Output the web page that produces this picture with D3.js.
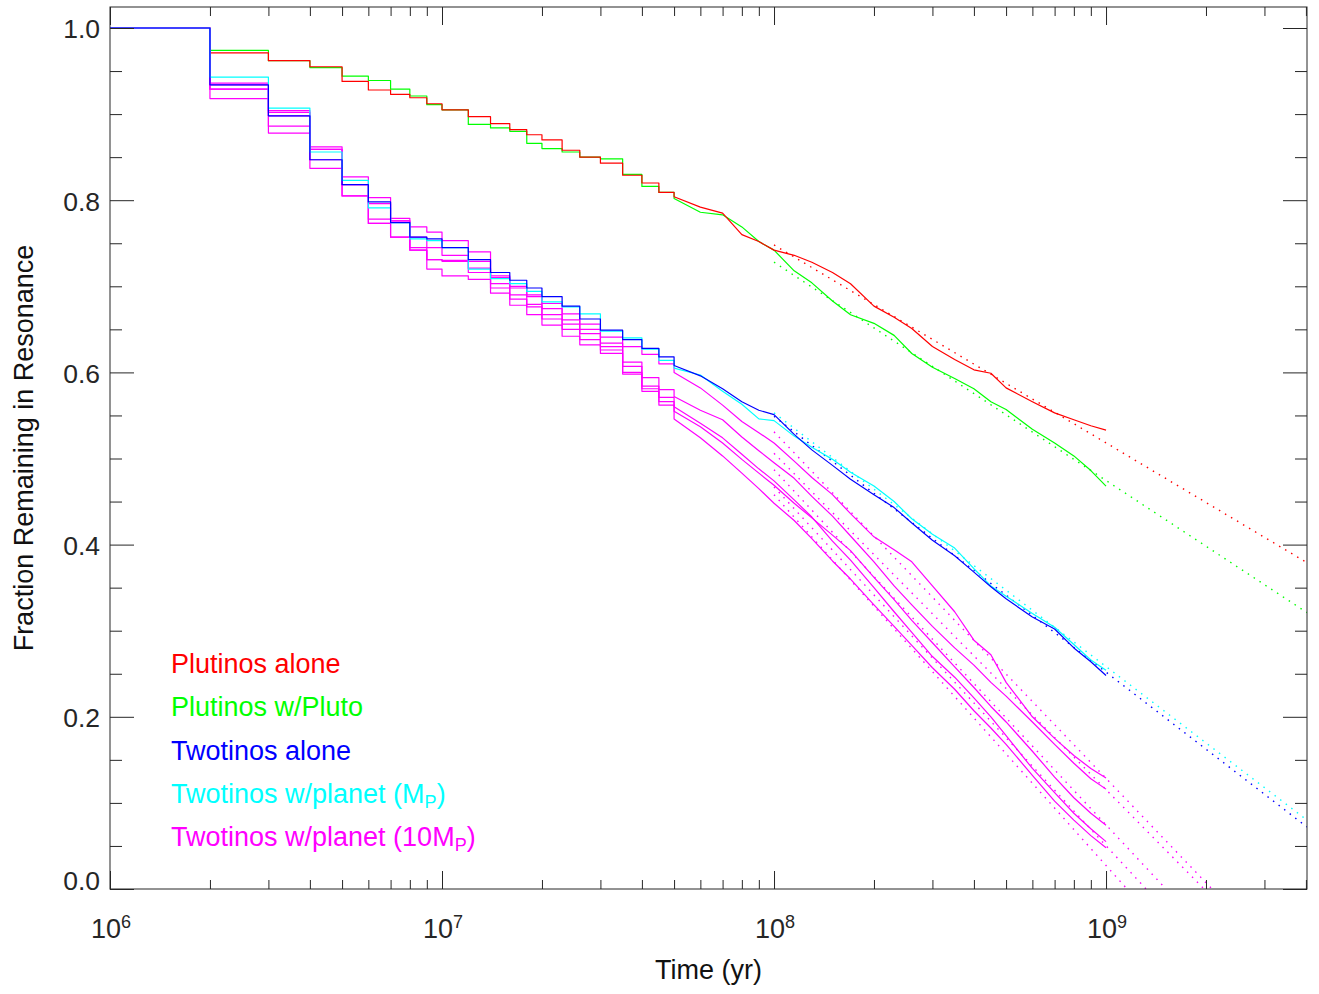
<!DOCTYPE html>
<html>
<head>
<meta charset="utf-8">
<script src="https://cdn.jsdelivr.net/npm/d3@7"></script>
<style>
  body { margin: 0; background: #fff; }
  svg { display: block; }
  text { font-family: "Liberation Sans", Arial, Helvetica, sans-serif; }
</style>
</head>
<body>
<div id="chart"></div>
<script>
// Sample times (yr), shared by every series
const times = [1e6, 2e6, 3e6, 4e6, 5e6, 6e6, 7e6, 8e6, 9e6, 1e7,
  1.2e7, 1.4e7, 1.6e7, 1.8e7, 2e7, 2.3e7, 2.6e7, 3e7, 3.5e7, 4e7,
  4.5e7, 5e7, 6e7, 7e7, 8e7, 9e7, 1e8, 1.15e8, 1.3e8, 1.5e8,
  1.7e8, 2e8, 2.3e8, 2.6e8, 3e8, 3.5e8, 4e8, 4.5e8, 5e8, 6e8,
  7e8, 8e8, 9e8, 1e9];

// Fraction remaining
const plutinosAlone = [1.000, 0.971, 0.962, 0.955, 0.938, 0.928, 0.923, 0.919, 0.912, 0.905,
  0.897, 0.889, 0.882, 0.876, 0.870, 0.858, 0.850, 0.843, 0.829, 0.820,
  0.809, 0.804, 0.792, 0.785, 0.760, 0.752, 0.742, 0.736, 0.728, 0.716,
  0.703, 0.677, 0.664, 0.651, 0.630, 0.615, 0.603, 0.599, 0.582, 0.566,
  0.553, 0.545, 0.538, 0.533];
const plutinosPluto = [1.000, 0.974, 0.962, 0.954, 0.944, 0.939, 0.929, 0.921, 0.911, 0.905,
  0.888, 0.884, 0.880, 0.866, 0.860, 0.856, 0.850, 0.848, 0.830, 0.816,
  0.809, 0.802, 0.786, 0.783, 0.769, 0.752, 0.742, 0.718, 0.704, 0.683,
  0.667, 0.657, 0.643, 0.622, 0.606, 0.593, 0.581, 0.566, 0.557, 0.534,
  0.518, 0.503, 0.486, 0.468];
const twotinosAlone = [1.000, 0.934, 0.898, 0.847, 0.818, 0.798, 0.774, 0.757, 0.755, 0.745,
  0.731, 0.716, 0.707, 0.698, 0.688, 0.677, 0.662, 0.649, 0.638, 0.628,
  0.618, 0.608, 0.596, 0.581, 0.566, 0.556, 0.551, 0.528, 0.510, 0.492,
  0.476, 0.458, 0.443, 0.425, 0.405, 0.387, 0.368, 0.351, 0.337, 0.316,
  0.302, 0.280, 0.264, 0.248];
const twotinosMp = [1.000, 0.943, 0.907, 0.856, 0.823, 0.791, 0.774, 0.755, 0.753, 0.745,
  0.720, 0.709, 0.703, 0.694, 0.682, 0.676, 0.668, 0.648, 0.640, 0.627,
  0.614, 0.605, 0.597, 0.578, 0.563, 0.546, 0.544, 0.526, 0.513, 0.499,
  0.484, 0.468, 0.450, 0.430, 0.412, 0.396, 0.372, 0.352, 0.340, 0.320,
  0.304, 0.284, 0.266, 0.254];
const twotinos10Mp1 = [1.000, 0.936, 0.904, 0.862, 0.827, 0.803, 0.779, 0.769, 0.763, 0.753,
  0.740, 0.712, 0.700, 0.690, 0.680, 0.668, 0.656, 0.641, 0.630, 0.621,
  0.610, 0.600, 0.582, 0.562, 0.543, 0.530, 0.518, 0.497, 0.478, 0.458,
  0.436, 0.409, 0.394, 0.380, 0.352, 0.322, 0.289, 0.272, 0.240, 0.200,
  0.175, 0.155, 0.140, 0.129];
const twotinos10Mp2 = [1.000, 0.934, 0.902, 0.859, 0.818, 0.796, 0.776, 0.757, 0.745, 0.736,
  0.729, 0.710, 0.698, 0.688, 0.674, 0.661, 0.650, 0.634, 0.612, 0.594,
  0.580, 0.572, 0.556, 0.545, 0.525, 0.509, 0.495, 0.477, 0.456, 0.433,
  0.410, 0.380, 0.352, 0.330, 0.305, 0.280, 0.260, 0.240, 0.224, 0.194,
  0.168, 0.146, 0.128, 0.116];
const twotinos10Mp3 = [1.000, 0.929, 0.898, 0.847, 0.818, 0.778, 0.776, 0.745, 0.731, 0.730,
  0.721, 0.703, 0.690, 0.679, 0.667, 0.656, 0.645, 0.626, 0.598, 0.581,
  0.566, 0.555, 0.537, 0.518, 0.499, 0.483, 0.469, 0.448, 0.431, 0.411,
  0.393, 0.362, 0.336, 0.312, 0.286, 0.258, 0.234, 0.212, 0.194, 0.160,
  0.130, 0.106, 0.088, 0.074];
const twotinos10Mp4 = [1.000, 0.929, 0.886, 0.859, 0.805, 0.773, 0.757, 0.742, 0.731, 0.729,
  0.716, 0.698, 0.685, 0.676, 0.662, 0.650, 0.638, 0.630, 0.607, 0.584,
  0.571, 0.560, 0.541, 0.524, 0.505, 0.488, 0.474, 0.452, 0.432, 0.404,
  0.382, 0.350, 0.322, 0.298, 0.270, 0.246, 0.222, 0.200, 0.178, 0.140,
  0.112, 0.088, 0.070, 0.055];
const twotinos10Mp5 = [1.000, 0.918, 0.878, 0.837, 0.805, 0.773, 0.757, 0.742, 0.720, 0.712,
  0.708, 0.692, 0.678, 0.667, 0.655, 0.642, 0.632, 0.622, 0.600, 0.578,
  0.562, 0.546, 0.524, 0.503, 0.483, 0.465, 0.448, 0.428, 0.407, 0.381,
  0.360, 0.330, 0.305, 0.283, 0.257, 0.232, 0.207, 0.187, 0.168, 0.132,
  0.102, 0.080, 0.062, 0.048];

// Dotted fits: [start time, start fraction, end time, end fraction]
const fitPlutinosAlone = [1e8, 0.748, 4.03e9, 0.379];
const fitPlutinosPluto = [1e8, 0.728, 4.03e9, 0.321];
const fitTwotinosAlone = [1e8, 0.549, 4.03e9, 0.072];
const fitTwotinosMp = [1e8, 0.553, 4.03e9, 0.080];
const fitTwotinos10Mp1 = [1e8, 0.531, 2.086e9, 0];
const fitTwotinos10Mp2 = [1e8, 0.506, 1.974e9, 0];
const fitTwotinos10Mp3 = [1e8, 0.487, 1.516e9, 0];
const fitTwotinos10Mp4 = [1e8, 0.467, 1.320e9, 0];
const fitTwotinos10Mp5 = [1e8, 0.458, 1.157e9, 0];

// Ticks
const xMajor = [1e6, 1e7, 1e8, 1e9];
const xMinor = [2, 3, 4, 5, 6, 7, 8, 9].flatMap(m => [1e6, 1e7, 1e8, 1e9].map(d => m * d)).filter(t => t <= 4.03e9);
const yMajor = [0, 0.2, 0.4, 0.6, 0.8, 1.0];
const yMinor = d3.range(0, 21).map(i => i * 0.05).filter(v => Math.round(v * 100) % 20 !== 0);

const width = 1319;
const height = 994;
const plot = { left: 110, right: 1307, top: 7, bottom: 889 };
const axisColor = "#262626";
const stepUntil = 5e7; // sampled steps are drawn as stairs up to here

const svg = d3.select("#chart")
  .append("svg")
  .attr("width", width)
  .attr("height", height)
  .style("background", "#fff");

const x = d3.scaleLog().domain([1e6, 4.03e9]).range([plot.left, plot.right]);
const y = d3.scaleLinear().domain([0, 882 / 861]).range([plot.bottom, plot.top]);

svg.append("clipPath").attr("id", "clip")
  .append("rect")
  .attr("x", plot.left).attr("y", plot.top)
  .attr("width", plot.right - plot.left).attr("height", plot.bottom - plot.top);

const plotG = svg.append("g").attr("clip-path", "url(#clip)");

// Series in drawing order (blue ends on top)
const series = [
  { values: plutinosPluto, fit: fitPlutinosPluto, color: "#00ff00" },
  { values: plutinosAlone, fit: fitPlutinosAlone, color: "#ff0000" },
  { values: twotinos10Mp1, fit: fitTwotinos10Mp1, color: "#ff00ff" },
  { values: twotinos10Mp2, fit: fitTwotinos10Mp2, color: "#ff00ff" },
  { values: twotinos10Mp3, fit: fitTwotinos10Mp3, color: "#ff00ff" },
  { values: twotinos10Mp4, fit: fitTwotinos10Mp4, color: "#ff00ff" },
  { values: twotinos10Mp5, fit: fitTwotinos10Mp5, color: "#ff00ff" },
  { values: twotinosMp, fit: fitTwotinosMp, color: "#00ffff" },
  { values: twotinosAlone, fit: fitTwotinosAlone, color: "#0000ff" }
];

const stepLine = d3.line()
  .x(d => x(d[0]))
  .y(d => y(d[1]))
  .curve(d3.curveStepAfter);

const plainLine = d3.line()
  .x(d => x(d[0]))
  .y(d => y(d[1]));

// fits first (dotted)
series.forEach(s => {
  plotG.append("path")
    .datum([[s.fit[0], s.fit[1]], [s.fit[2], s.fit[3]]])
    .attr("d", plainLine)
    .attr("fill", "none")
    .attr("stroke", s.color)
    .attr("stroke-width", 1.4)
    .attr("stroke-dasharray", "1.5 5.5");
});

series.forEach(s => {
  const pts = times.map((t, i) => [t, s.values[i]]);
  const early = pts.filter(p => p[0] <= stepUntil);
  const late = pts.filter(p => p[0] >= stepUntil);
  plotG.append("path")
    .attr("d", stepLine(early) + plainLine(late).replace(/^M/, "L"))
    .attr("fill", "none")
    .attr("stroke", s.color)
    .attr("stroke-width", 1.2)
    .attr("stroke-linejoin", "round");
});

// Axes (ticks inward on all four sides)
function styleAxis(g) {
  g.select(".domain").remove();
  g.selectAll(".tick line").attr("stroke", axisColor).attr("stroke-width", 1);
}

svg.append("g").attr("transform", `translate(0,${plot.bottom})`)
  .call(d3.axisBottom(x).tickValues(xMajor).tickSize(-18).tickFormat(""))
  .call(styleAxis);
svg.append("g").attr("transform", `translate(0,${plot.bottom})`)
  .call(d3.axisBottom(x).tickValues(xMinor).tickSize(-9).tickFormat(""))
  .call(styleAxis);
svg.append("g").attr("transform", `translate(0,${plot.top})`)
  .call(d3.axisTop(x).tickValues(xMajor).tickSize(-18).tickFormat(""))
  .call(styleAxis);
svg.append("g").attr("transform", `translate(0,${plot.top})`)
  .call(d3.axisTop(x).tickValues(xMinor).tickSize(-9).tickFormat(""))
  .call(styleAxis);

const leftAxis = svg.append("g").attr("transform", `translate(${plot.left},0)`)
  .call(d3.axisLeft(y).tickValues(yMajor).tickSize(-24).tickPadding(10).tickFormat(d3.format(".1f")))
  .call(styleAxis);
leftAxis.selectAll(".tick text")
  .attr("fill", axisColor)
  .attr("font-size", 26.5)
  .attr("font-family", '"Liberation Sans", Arial, Helvetica, sans-serif')
  .attr("dy", d => d === 0 ? "0em" : "0.37em");
svg.append("g").attr("transform", `translate(${plot.left},0)`)
  .call(d3.axisLeft(y).tickValues(yMinor).tickSize(-12).tickFormat(""))
  .call(styleAxis);
svg.append("g").attr("transform", `translate(${plot.right},0)`)
  .call(d3.axisRight(y).tickValues(yMajor).tickSize(-24).tickFormat(""))
  .call(styleAxis);
svg.append("g").attr("transform", `translate(${plot.right},0)`)
  .call(d3.axisRight(y).tickValues(yMinor).tickSize(-12).tickFormat(""))
  .call(styleAxis);

// Frame
svg.append("rect")
  .attr("x", plot.left).attr("y", plot.top)
  .attr("width", plot.right - plot.left).attr("height", plot.bottom - plot.top)
  .attr("fill", "none")
  .attr("stroke", axisColor)
  .attr("stroke-width", 1);

// x tick labels 10^n
xMajor.forEach(t => {
  const lbl = svg.append("text")
    .attr("x", x(t) + 1)
    .attr("y", 938)
    .attr("text-anchor", "middle")
    .attr("fill", axisColor)
    .attr("font-size", 27);
  lbl.append("tspan").text("10");
  lbl.append("tspan")
    .attr("dy", -10)
    .attr("font-size", 18)
    .text(Math.round(Math.log10(t)));
});

// Axis titles
svg.append("text")
  .attr("x", (plot.left + plot.right) / 2)
  .attr("y", 979)
  .attr("text-anchor", "middle")
  .attr("fill", "#111")
  .attr("font-size", 27)
  .text("Time (yr)");

svg.append("text")
  .attr("transform", `translate(33,${(plot.top + plot.bottom) / 2}) rotate(-90)`)
  .attr("text-anchor", "middle")
  .attr("fill", "#111")
  .attr("font-size", 27)
  .text("Fraction Remaining in Resonance");

// Legend
const legendItems = [
  { label: "Plutinos alone", sub: null, tail: "", color: "#ff0000" },
  { label: "Plutinos w/Pluto", sub: null, tail: "", color: "#00ff00" },
  { label: "Twotinos alone", sub: null, tail: "", color: "#0000ff" },
  { label: "Twotinos w/planet (M", sub: "P", tail: ")", color: "#00ffff" },
  { label: "Twotinos w/planet (10M", sub: "P", tail: ")", color: "#ff00ff" }
];

legendItems.forEach((d, i) => {
  const t = svg.append("text")
    .attr("x", 171)
    .attr("y", 673 + i * 43.3)
    .attr("fill", d.color)
    .attr("font-size", 27);
  t.append("tspan").text(d.label);
  if (d.sub) {
    t.append("tspan").attr("dy", 5).attr("font-size", 18).text(d.sub);
    t.append("tspan").attr("dy", -5).text(d.tail);
  }
});
</script>
</body>
</html>
